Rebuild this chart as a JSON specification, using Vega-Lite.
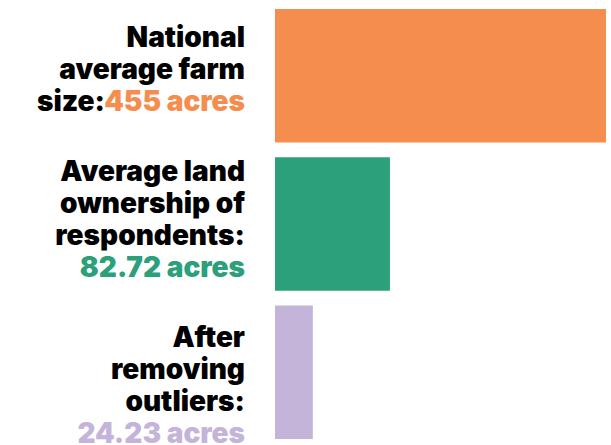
{
  "$schema": "https://vega.github.io/schema/vega-lite/v6.json",
  "width": 331,
  "height": 445,
  "autosize": {"type": "none"},
  "padding": {"left": 275, "top": 0, "right": 5, "bottom": 0},
  "background": "white",
  "config": {"view": {"stroke": null}, "text": {"font": "Inter", "fontWeight": 900, "fontSize": 28, "align": "right", "baseline": "middle", "lineBreak": "\n", "lineHeight": 32}},
  "data": {
    "values": [
      {"group": "National average farm size", "black": "National\naverage farm", "prefix": "size:", "acres": "455 acres", "length": 455},
      {"group": "Average land ownership of respondents", "black": "Average land\nownership of\nrespondents:", "prefix": "", "acres": "82.72 acres", "length": 158},
      {"group": "After removing outliers", "black": "After\nremoving\noutliers:", "prefix": "", "acres": "24.23 acres", "length": 52}
    ]
  },
  "encoding": {
    "y": {"field": "group", "type": "nominal", "sort": null, "axis": null,
          "scale": {"paddingInner": 0.1, "paddingOuter": 0.05, "align": 0.6}}
  },
  "layer": [
    {
      "mark": {"type": "bar"},
      "encoding": {
        "x": {"field": "length", "type": "quantitative", "axis": null, "scale": {"domain": [0, 455], "nice": false}},
        "color": {"field": "group", "type": "nominal", "legend": null,
                  "scale": {"domain": ["National average farm size", "Average land ownership of respondents", "After removing outliers"],
                            "range": ["#F58D4E", "#2BA07A", "#C4B4DA"]}}
      }
    },
    {
      "transform": [{"filter": "datum.group == 'National average farm size'"}],
      "mark": {"type": "text", "dx": -30, "dy": -37, "color": "#000000"},
      "encoding": {"x": {"datum": 0, "type": "quantitative"}, "text": {"field": "black"}}
    },
    {
      "transform": [{"filter": "datum.group == 'National average farm size'"}],
      "mark": {"type": "text", "dx": -170, "dy": 27, "color": "#000000"},
      "encoding": {"x": {"datum": 0, "type": "quantitative"}, "text": {"field": "prefix"}}
    },
    {
      "transform": [{"filter": "datum.group == 'National average farm size'"}],
      "mark": {"type": "text", "dx": -30, "dy": 27},
      "encoding": {"x": {"datum": 0, "type": "quantitative"}, "text": {"field": "acres"}, "color": {"field": "group", "type": "nominal", "legend": null}}
    },
    {
      "transform": [{"filter": "datum.group == 'Average land ownership of respondents'"}],
      "mark": {"type": "text", "dx": -30, "dy": -51, "color": "#000000"},
      "encoding": {"x": {"datum": 0, "type": "quantitative"}, "text": {"field": "black"}}
    },
    {
      "transform": [{"filter": "datum.group == 'Average land ownership of respondents'"}],
      "mark": {"type": "text", "dx": -30, "dy": 45},
      "encoding": {"x": {"datum": 0, "type": "quantitative"}, "text": {"field": "acres"}, "color": {"field": "group", "type": "nominal", "legend": null}}
    },
    {
      "transform": [{"filter": "datum.group == 'After removing outliers'"}],
      "mark": {"type": "text", "dx": -30, "dy": -33, "color": "#000000"},
      "encoding": {"x": {"datum": 0, "type": "quantitative"}, "text": {"field": "black"}}
    },
    {
      "transform": [{"filter": "datum.group == 'After removing outliers'"}],
      "mark": {"type": "text", "dx": -30, "dy": 63},
      "encoding": {"x": {"datum": 0, "type": "quantitative"}, "text": {"field": "acres"}, "color": {"field": "group", "type": "nominal", "legend": null}}
    }
  ]
}
